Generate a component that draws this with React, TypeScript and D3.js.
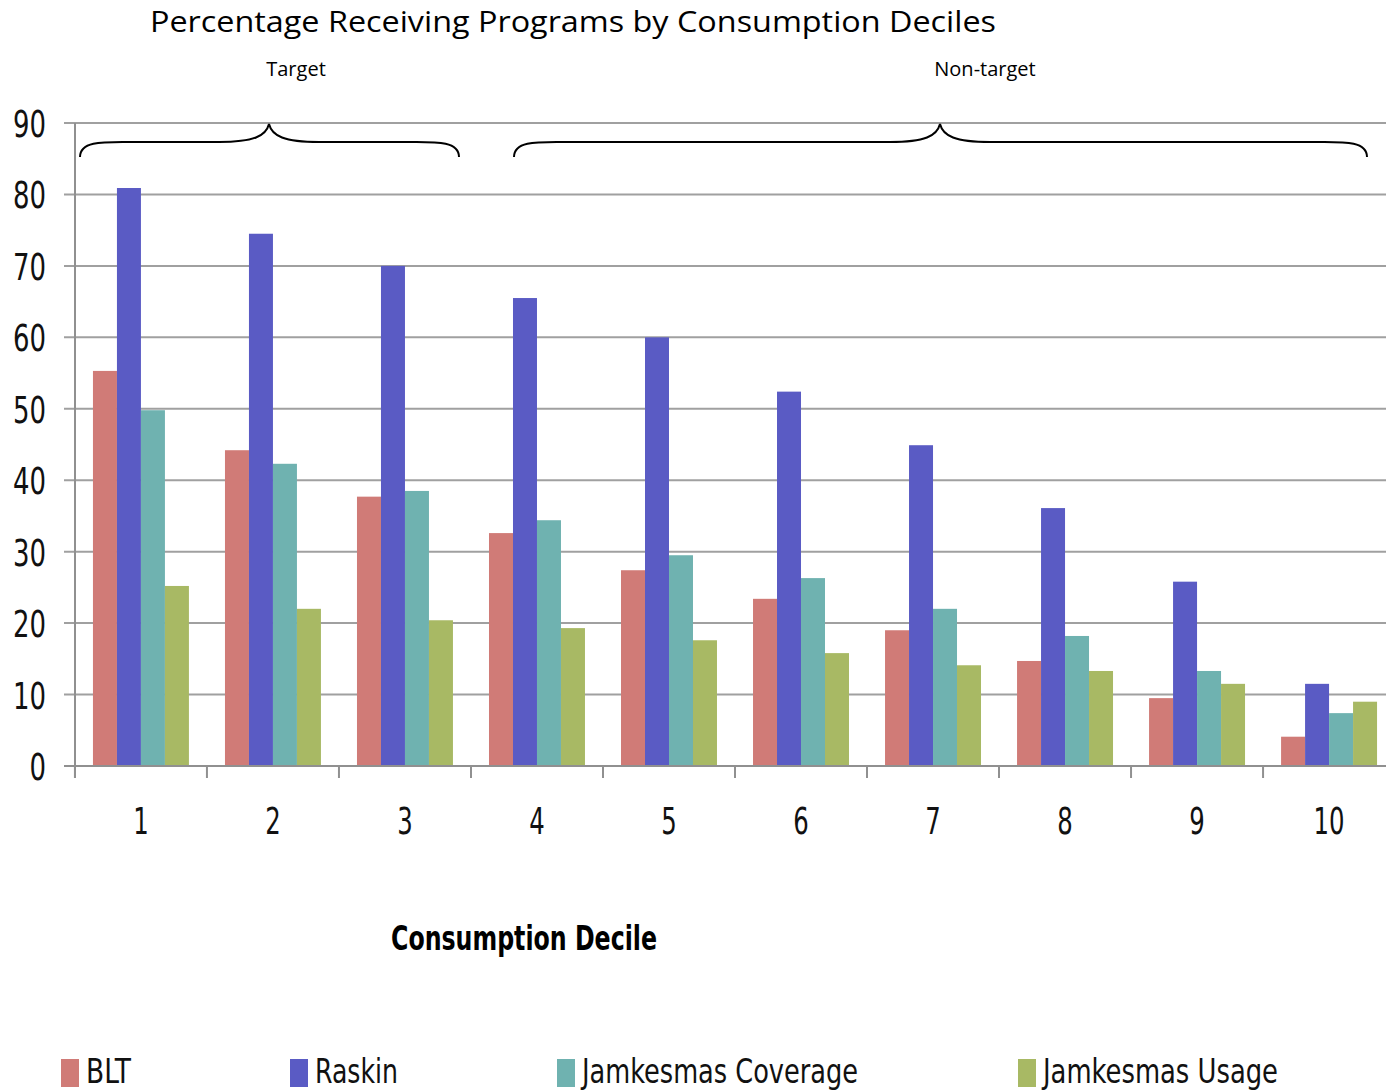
import React, { useEffect, useRef } from 'react';
import * as d3 from 'd3';

const deciles = ['1', '2', '3', '4', '5', '6', '7', '8', '9', '10'];
const seriesNames = ['BLT', 'Raskin', 'Jamkesmas Coverage', 'Jamkesmas Usage'];
const blt = [55.3, 44.2, 37.7, 32.6, 27.4, 23.4, 19.0, 14.7, 9.5, 4.1];
const raskin = [80.9, 74.5, 70.0, 65.5, 60.0, 52.4, 44.9, 36.1, 25.8, 11.5];
const coverage = [49.8, 42.3, 38.5, 34.4, 29.5, 26.3, 22.0, 18.2, 13.3, 7.4];
const usage = [25.2, 22.0, 20.4, 19.3, 17.6, 15.8, 14.1, 13.3, 11.5, 9.0];
const yTicks = [0, 10, 20, 30, 40, 50, 60, 70, 80, 90];
const colors = ['#d07b77', '#5a5bc4', '#6fb2b0', '#a8b964'];

const W = 1386;
const H = 1091;
const narrow = '"Liberation Sans Narrow", "DejaVu Sans Condensed", "Noto Sans", sans-serif';
const sans = '"Open Sans", "Noto Sans", sans-serif';

const App: React.FC = () => {
    const ref = useRef<SVGSVGElement>(null);

    useEffect(() => {
        const svg = d3.select(ref.current);
        svg.selectAll('*').remove();

        const values = [blt, raskin, coverage, usage];
        const x = d3.scaleBand().domain(deciles).range([75, 1395]).paddingInner(0.273).paddingOuter(0.136);
        const xs = d3.scaleBand().domain(seriesNames).range([0, x.bandwidth()]);
        const y = d3.scaleLinear().domain([0, 90]).range([766, 123]);

        // gridlines
        svg.append('g')
            .selectAll('line')
            .data(yTicks)
            .enter()
            .append('line')
            .attr('x1', 64)
            .attr('x2', W)
            .attr('y1', (d) => y(d))
            .attr('y2', (d) => y(d))
            .attr('stroke', '#a0a0a0')
            .attr('stroke-width', 2);

        // y labels
        svg.append('g')
            .selectAll('text')
            .data(yTicks)
            .enter()
            .append('text')
            .attr('x', 46)
            .attr('y', (d) => y(d) + 14)
            .attr('text-anchor', 'end')
            .attr('font-family', narrow)
            .attr('font-size', 38)
            .attr('font-weight', 300)
            .attr('textLength', (d) => String(d).length * 16.5)
            .attr('lengthAdjust', 'spacingAndGlyphs')
            .attr('fill', '#111')
            .text((d) => d);

        // bars
        const groups = svg.append('g')
            .selectAll('g')
            .data(deciles)
            .enter()
            .append('g')
            .attr('transform', (d) => `translate(${x(d)},0)`);

        groups.selectAll('rect')
            .data((d, i) => seriesNames.map((s, j) => ({ s, v: values[j][i], c: colors[j] })))
            .enter()
            .append('rect')
            .attr('x', (d) => xs(d.s)!)
            .attr('y', (d) => y(d.v))
            .attr('width', xs.bandwidth())
            .attr('height', (d) => y(0) - y(d.v))
            .attr('fill', (d) => d.c);

        // axes
        svg.append('line')
            .attr('x1', 75).attr('x2', 75)
            .attr('y1', y(90)).attr('y2', y(0) + 12)
            .attr('stroke', '#909090').attr('stroke-width', 2);
        svg.append('line')
            .attr('x1', 64).attr('x2', W)
            .attr('y1', y(0)).attr('y2', y(0))
            .attr('stroke', '#909090').attr('stroke-width', 2);

        svg.append('g')
            .selectAll('line')
            .data(deciles)
            .enter()
            .append('line')
            .attr('x1', (d) => x(d)! - x.step() * x.paddingInner() / 2)
            .attr('x2', (d) => x(d)! - x.step() * x.paddingInner() / 2)
            .attr('y1', y(0))
            .attr('y2', y(0) + 12)
            .attr('stroke', '#909090')
            .attr('stroke-width', 2);

        svg.append('g')
            .selectAll('text')
            .data(deciles)
            .enter()
            .append('text')
            .attr('x', (d) => x(d)! + x.bandwidth() / 2)
            .attr('y', 834)
            .attr('text-anchor', 'middle')
            .attr('font-family', narrow)
            .attr('font-size', 38)
            .attr('font-weight', 300)
            .attr('textLength', (d) => d.length * 15.5)
            .attr('lengthAdjust', 'spacingAndGlyphs')
            .attr('fill', '#111')
            .text((d) => d);

        // titles
        svg.append('text')
            .attr('x', 150).attr('y', 32)
            .attr('font-family', sans).attr('font-size', 30)
            .attr('textLength', 846).attr('lengthAdjust', 'spacingAndGlyphs')
            .text('Percentage Receiving Programs by Consumption Deciles');

        svg.append('text')
            .attr('x', 391).attr('y', 950)
            .attr('font-family', narrow).attr('font-size', 34).attr('font-weight', 'bold')
            .attr('textLength', 266).attr('lengthAdjust', 'spacingAndGlyphs')
            .text('Consumption Decile');

        svg.append('text')
            .attr('x', 296).attr('y', 76).attr('text-anchor', 'middle')
            .attr('font-family', sans).attr('font-size', 20)
            .text('Target');
        svg.append('text')
            .attr('x', 985).attr('y', 76).attr('text-anchor', 'middle')
            .attr('font-family', sans).attr('font-size', 20)
            .text('Non-target');

        // braces
        const brace = (x0: number, xm: number, x1: number) => {
            const top = 124, arm = 142, end = 157;
            return `M${x0},${end} C${x0},${arm - 2} ${x0 + 25},${arm} ${x0 + 55},${arm}` +
                ` L${xm - 50},${arm} C${xm - 15},${arm} ${xm - 3},${arm - 6} ${xm},${top}` +
                ` C${xm + 3},${arm - 6} ${xm + 15},${arm} ${xm + 50},${arm}` +
                ` L${x1 - 55},${arm} C${x1 - 25},${arm} ${x1},${arm - 2} ${x1},${end}`;
        };
        svg.append('path').attr('d', brace(80, 269, 459))
            .attr('fill', 'none').attr('stroke', '#000').attr('stroke-width', 2);
        svg.append('path').attr('d', brace(514, 940, 1367))
            .attr('fill', 'none').attr('stroke', '#000').attr('stroke-width', 2);

        // legend
        const legendX = [61, 290, 557, 1018];
        const legendW = [45, 83, 276, 235];
        const lg = svg.append('g')
            .selectAll('g')
            .data(seriesNames)
            .enter()
            .append('g')
            .attr('transform', (d, i) => `translate(${legendX[i]},0)`);
        lg.append('rect')
            .attr('x', 0).attr('y', 1059)
            .attr('width', 18).attr('height', 28)
            .attr('fill', (d, i) => colors[i]);
        lg.append('text')
            .attr('x', 25).attr('y', 1083)
            .attr('font-family', narrow).attr('font-size', 34)
            .attr('textLength', (d, i) => legendW[i]).attr('lengthAdjust', 'spacingAndGlyphs')
            .attr('fill', '#111')
            .text((d) => d);
    }, []);

    return (
        <svg
            ref={ref}
            width={W}
            height={H}
            style={{ position: 'absolute', left: 0, top: 0, background: '#fff' }}
        />
    );
};

export default App;
